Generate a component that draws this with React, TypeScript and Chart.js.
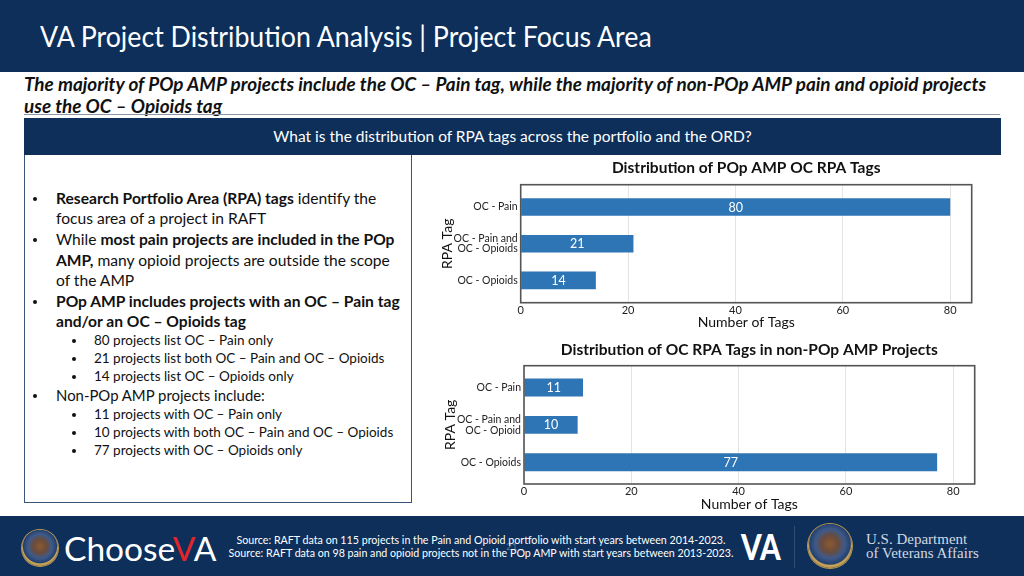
import React, { useEffect, useRef } from 'react';
import { Chart, registerables } from 'chart.js';

Chart.register(...registerables);

// ---------- data ----------
const popAmpTags: string[][] = [['OC - Pain'], ['OC - Pain and', 'OC - Opioids'], ['OC - Opioids']];
const popAmpCounts: number[] = [80, 21, 14];
const nonPopAmpTags: string[][] = [['OC - Pain'], ['OC - Pain and', 'OC - Opioid'], ['OC - Opioids']];
const nonPopAmpCounts: number[] = [11, 10, 77];
const countTicks: number[] = [0, 20, 40, 60, 80];
const countAxisMax = 84;

const NAVY = '#0d2f5a';
const BAR = '#2e75b6';
const FONT = 'Lato, "Open Sans", sans-serif';

type Geom = {
  left: number; top: number; width: number; height: number;
  yAxisWidth: number; padRight: number; padTop: number; xAxisHeight: number;
  titleY: number; idxMin: number; idxMax: number; yTitlePad: number; xTitlePad: number;
};

const boxPlugin = {
  id: 'boxBorder',
  afterDraw(chart: any) {
    const { ctx, chartArea } = chart;
    ctx.save();
    ctx.strokeStyle = '#555555';
    ctx.lineWidth = 1.6;
    ctx.strokeRect(chartArea.left, chartArea.top, chartArea.right - chartArea.left, chartArea.bottom - chartArea.top);
    ctx.restore();
  },
};

const valuePlugin = {
  id: 'valueLabels',
  afterDatasetsDraw(chart: any) {
    const { ctx } = chart;
    ctx.save();
    ctx.fillStyle = '#ffffff';
    ctx.font = `12.5px ${FONT}`;
    ctx.textAlign = 'center';
    ctx.textBaseline = 'middle';
    chart.data.datasets.forEach((ds: any, di: number) => {
      const meta = chart.getDatasetMeta(di);
      meta.data.forEach((el: any, i: number) => {
        const p = el.getProps(['x', 'y', 'base'], true);
        ctx.fillText(String(ds.data[i].x), (p.x + p.base) / 2, p.y + 0.5);
      });
    });
    ctx.restore();
  },
};

const titlePlugin = {
  id: 'panelTitle',
  afterDraw(chart: any, _args: any, opts: any) {
    const { ctx, chartArea } = chart;
    ctx.save();
    ctx.fillStyle = '#111111';
    ctx.font = `bold 15.5px ${FONT}`;
    ctx.textAlign = 'center';
    ctx.textBaseline = 'middle';
    ctx.fillText(opts.text, (chartArea.left + chartArea.right) / 2, opts.y);
    ctx.restore();
  },
};

function BarPanel({ title, tags, counts, g }: { title: string; tags: string[][]; counts: number[]; g: Geom }) {
  const ref = useRef<HTMLCanvasElement>(null);
  useEffect(() => {
    if (!ref.current) return;
    const chart = new Chart(ref.current, {
      type: 'bar',
      data: {
        datasets: [
          {
            data: counts.map((c, i) => ({ x: c, y: i })),
            backgroundColor: BAR,
            borderWidth: 0,
            barPercentage: 0.48,
            categoryPercentage: 1,
          },
        ],
      },
      options: {
        indexAxis: 'y',
        responsive: false,
        animation: false,
        events: [],
        layout: { padding: { top: g.padTop, right: g.padRight, bottom: 0, left: 0 } },
        plugins: {
          legend: { display: false },
          tooltip: { enabled: false },
          title: { display: false },
          panelTitle: { text: title, y: g.titleY },
        } as any,
        scales: {
          x: {
            type: 'linear',
            min: 0,
            max: countAxisMax,
            offset: false,
            afterBuildTicks: (s: any) => { s.ticks = countTicks.map((v) => ({ value: v })); },
            afterFit: (s: any) => { s.height = g.xAxisHeight; },
            grid: { color: '#e4e4e4', lineWidth: 1, drawTicks: false, offset: false },
            border: { display: false },
            ticks: { padding: 1, color: '#222', font: { family: FONT, size: 11 } },
            title: {
              display: true,
              text: 'Number of Tags',
              color: '#111',
              font: { family: FONT, size: 14 },
              padding: { top: 0, bottom: g.xTitlePad },
            },
          },
          y: {
            type: 'linear',
            reverse: true,
            offset: false,
            min: g.idxMin,
            max: g.idxMax,
            afterBuildTicks: (s: any) => { s.ticks = tags.map((_t, i) => ({ value: i })); },
            afterFit: (s: any) => { s.width = g.yAxisWidth; },
            grid: { display: false, drawTicks: false, offset: false },
            border: { display: false },
            ticks: {
              padding: 3,
              color: '#222',
              font: { family: FONT, size: 10.5, lineHeight: 1.02 },
              callback: (v: any) => tags[Math.round(Number(v))] ?? '',
            },
            title: {
              display: true,
              text: 'RPA Tag',
              color: '#111',
              font: { family: FONT, size: 14 },
              padding: { top: g.yTitlePad, bottom: 0 },
            },
          },
        },
      } as any,
      plugins: [boxPlugin, valuePlugin, titlePlugin],
    });
    return () => chart.destroy();
  }, []);
  return (
    <canvas
      ref={ref}
      width={g.width}
      height={g.height}
      style={{ position: 'absolute', left: g.left, top: g.top, width: g.width, height: g.height }}
    />
  );
}

const g1: Geom = {
  left: 436, top: 155, width: 564, height: 180,
  yAxisWidth: 84.7, padRight: 28.3, padTop: 29.7, xAxisHeight: 32.3,
  titleY: 13, idxMin: -0.61, idxMax: 2.61, yTitlePad: 2.6, xTitlePad: 4.5,
};
const g2: Geom = {
  left: 436, top: 335, width: 564, height: 180,
  yAxisWidth: 88, padRight: 25.3, padTop: 30.7, xAxisHeight: 31,
  titleY: 15, idxMin: -0.585, idxMax: 2.585, yTitlePad: 5.6, xTitlePad: 2.6,
};

function Line({ x, y, size = 15.6, h = 20, children, style }: any) {
  return (
    <div
      style={{
        position: 'absolute', left: x, top: y - h / 2, height: h, lineHeight: `${h}px`,
        fontSize: size, whiteSpace: 'nowrap', color: '#111', fontFamily: FONT, ...style,
      }}
    >
      {children}
    </div>
  );
}

function Dot({ x, y }: { x: number; y: number }) {
  return <div style={{ position: 'absolute', left: x - 2, top: y - 2, width: 4, height: 4, borderRadius: 2, background: '#111' }} />;
}

function Seal({ cx, cy, d }: { cx: number; cy: number; d: number }) {
  return (
    <div
      style={{
        position: 'absolute', left: cx - d / 2, top: cy - d / 2, width: d, height: d, borderRadius: '50%',
        background: 'radial-gradient(circle at 50% 45%, #8a5a34 0%, #6b4b3a 25%, #3d5a8a 45%, #24406e 62%, #c9a55a 66%, #8c6a2e 100%)',
        boxShadow: '0 0 0 1px #b89650',
      }}
    />
  );
}

export default function App() {
  useEffect(() => {
    document.body.style.margin = '0';
  }, []);
  const b = { fontWeight: 700 };
  const sub = 13.5;
  return (
    <div style={{ position: 'fixed', left: 0, top: 0, width: 1024, height: 576, background: '#fff', overflow: 'hidden', fontFamily: FONT }}>
      {/* header */}
      <div style={{ position: 'absolute', left: 0, top: 0, width: 1024, height: 72, background: NAVY }} />
      <div
        style={{
          position: 'absolute', left: 40, top: 18, color: '#fff', fontSize: 28, lineHeight: '36px',
          whiteSpace: 'nowrap', transform: 'scaleX(0.955)', transformOrigin: 'left center', fontFamily: FONT,
        }}
      >
        VA Project Distribution Analysis | Project Focus Area
      </div>

      {/* subtitle */}
      <Line x={24} y={84} size={18.9} h={22} style={{ fontWeight: 700, fontStyle: 'italic' }}>
        The majority of POp AMP projects include the OC – Pain tag, while the majority of non-POp AMP pain and opioid projects
      </Line>
      <Line x={24} y={106} size={18.9} h={22} style={{ fontWeight: 700, fontStyle: 'italic' }}>
        use the OC – Opioids tag
      </Line>
      <div style={{ position: 'absolute', left: 24, top: 114, width: 976, height: 1, background: '#8d96a3' }} />

      {/* question bar */}
      <div style={{ position: 'absolute', left: 24, top: 118, width: 977, height: 37, background: NAVY }} />
      <div style={{ position: 'absolute', left: 24, top: 118, width: 977, height: 37, lineHeight: '37px', textAlign: 'center', color: '#fff', fontSize: 15.5, fontFamily: FONT }}>
        What is the distribution of RPA tags across the portfolio and the ORD?
      </div>

      {/* left box */}
      <div style={{ position: 'absolute', left: 24, top: 155, width: 386, height: 347, border: '1.5px solid #3b5479', borderTop: 'none' }} />
      <Dot x={35} y={199} />
      <Line x={56} y={198}><span style={b}>Research Portfolio Area (RPA) tags</span> identify the</Line>
      <Line x={56} y={218}>focus area of a project in RAFT</Line>
      <Dot x={35} y={240} />
      <Line x={56} y={239}>While <span style={b}>most pain projects are included in the POp</span></Line>
      <Line x={56} y={260}><span style={b}>AMP,</span> many opioid projects are outside the scope</Line>
      <Line x={56} y={280}>of the AMP</Line>
      <Dot x={35} y={302} />
      <Line x={56} y={301}><span style={b}>POp AMP includes projects with an OC – Pain tag</span></Line>
      <Line x={56} y={321}><span style={b}>and/or an OC – Opioids tag</span></Line>
      <Dot x={74} y={341} />
      <Line x={94} y={340} size={sub} h={18}>80 projects list OC – Pain only</Line>
      <Dot x={74} y={359} />
      <Line x={94} y={358} size={sub} h={18}>21 projects list both OC – Pain and OC – Opioids</Line>
      <Dot x={74} y={377} />
      <Line x={94} y={376} size={sub} h={18}>14 projects list OC – Opioids only</Line>
      <Dot x={35} y={396} />
      <Line x={56} y={395} size={14.9}>Non-POp AMP projects include:</Line>
      <Dot x={74} y={415} />
      <Line x={94} y={414} size={sub} h={18}>11 projects with OC – Pain only</Line>
      <Dot x={74} y={433} />
      <Line x={94} y={432} size={sub} h={18}>10 projects with both OC – Pain and OC – Opioids</Line>
      <Dot x={74} y={451} />
      <Line x={94} y={450} size={sub} h={18}>77 projects with OC – Opioids only</Line>

      {/* charts */}
      <BarPanel title="Distribution of POp AMP OC RPA Tags" tags={popAmpTags} counts={popAmpCounts} g={g1} />
      <BarPanel title="Distribution of OC RPA Tags in non-POp AMP Projects" tags={nonPopAmpTags} counts={nonPopAmpCounts} g={g2} />

      {/* footer */}
      <div style={{ position: 'absolute', left: 0, top: 516, width: 1024, height: 60, background: NAVY }} />
      <Seal cx={40} cy={548} d={36} />
      <div style={{ position: 'absolute', left: 64, top: 527, height: 42, lineHeight: '42px', fontSize: 33.5, color: '#fff', fontFamily: FONT, whiteSpace: 'nowrap' }}>
        Choose<span style={{ color: '#e3242b' }}>V</span>A
      </div>
      <div style={{ position: 'absolute', left: 481, top: 533, width: 0, height: 28 }}>
        <div style={{ position: 'absolute', left: -300, width: 600, textAlign: 'center', fontSize: 11, lineHeight: '13px', color: '#fff', fontFamily: FONT, whiteSpace: 'nowrap', transform: 'scaleX(0.97)' }}>
          Source: RAFT data on 115 projects in the Pain and Opioid portfolio with start years between 2014-2023.
          <br />
          Source: RAFT data on 98 pain and opioid projects not in the POp AMP with start years between 2013-2023.
        </div>
      </div>
      <div style={{ position: 'absolute', left: 506, top: 540, fontSize: 10, color: 'rgba(255,255,255,0.35)', fontFamily: FONT }}>21</div>
      <div style={{ position: 'absolute', left: 741, top: 526, height: 40, lineHeight: '40px', fontSize: 36, fontWeight: 900, color: '#fff', fontFamily: FONT, transform: 'scaleX(0.82)', transformOrigin: 'left center' }}>VA</div>
      <div style={{ position: 'absolute', left: 794, top: 526, width: 1, height: 42, background: 'rgba(255,255,255,0.15)' }} />
      <Seal cx={830} cy={546} d={44} />
      <div style={{ position: 'absolute', left: 866, top: 532, fontSize: 15, lineHeight: '14px', color: '#d3d9e2', fontFamily: '"Liberation Serif", "DejaVu Serif", serif', whiteSpace: 'nowrap' }}>
        U.S. Department
        <br />
        of Veterans Affairs
      </div>
    </div>
  );
}
